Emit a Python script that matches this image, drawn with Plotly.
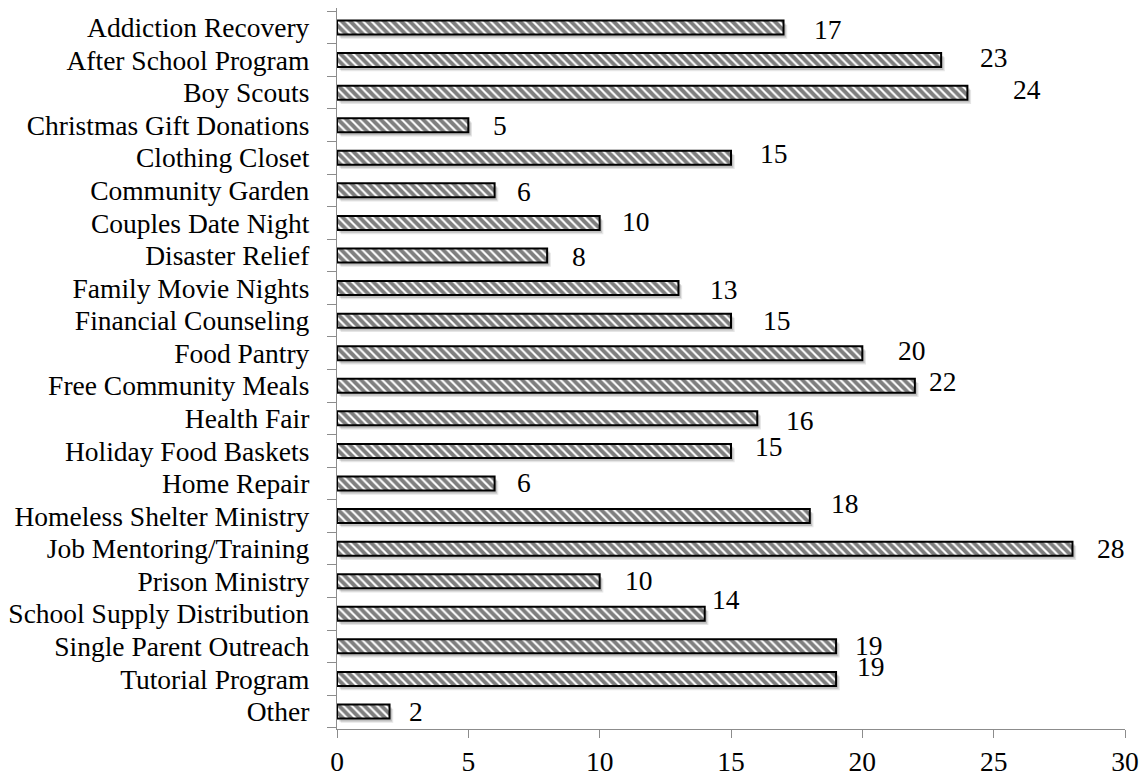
import plotly.graph_objects as go

# Outreach programs and the number of responses for each
programs = [
    "Addiction Recovery", "After School Program", "Boy Scouts",
    "Christmas Gift Donations", "Clothing Closet", "Community Garden",
    "Couples Date Night", "Disaster Relief", "Family Movie Nights",
    "Financial Counseling", "Food Pantry", "Free Community Meals",
    "Health Fair", "Holiday Food Baskets", "Home Repair",
    "Homeless Shelter Ministry", "Job Mentoring/Training", "Prison Ministry",
    "School Supply Distribution", "Single Parent Outreach",
    "Tutorial Program", "Other",
]
counts = [17, 23, 24, 5, 15, 6, 10, 8, 13, 15, 20, 22, 16, 15, 6, 18, 28, 10, 14, 19, 19, 2]

x_ticks = [0, 5, 10, 15, 20, 25, 30]

# Hand-placed value labels: (right, down) nudge in pixels from the bar end
label_nudge = [
    (28, 2), (37, -3), (44, -3), (23, 0), (27, -4), (20, 1), (20, -1), (23, 1),
    (30, 1), (30, 0), (34, -3), (12, -4), (27, 2), (22, -4), (20, -1), (19, -13),
    (23, 0), (23, -1), (5, -14), (17, -1), (19, -12), (17, 0),
]

FONT = "Liberation Serif"
FS = 27.5
BAR_W = 0.43

fig = go.Figure()

# soft drop shadow behind each bar
for dy, dx, alpha in [(0.13, 0.14, 0.10), (0.09, 0.09, 0.16)]:
    fig.add_trace(go.Bar(
        y=programs, x=counts, orientation="h",
        base=dx, width=BAR_W, offset=-BAR_W / 2 + dy,
        marker=dict(color=f"rgba(0,0,0,{alpha})", line=dict(width=0)),
        hoverinfo="skip", showlegend=False,
    ))

# hatched bars
fig.add_trace(go.Bar(
    y=programs, x=counts, orientation="h",
    width=BAR_W, offset=-BAR_W / 2,
    marker=dict(
        color="white",
        line=dict(color="black", width=2),
        pattern=dict(shape="\\", fgcolor="black", bgcolor="white",
                     size=6, solidity=0.65),
    ),
    showlegend=False,
))

for name, val, (dx, dy) in zip(programs, counts, label_nudge):
    fig.add_annotation(
        x=val, y=name, text=str(val), showarrow=False,
        xanchor="left", yanchor="middle", xshift=dx, yshift=-dy,
        font=dict(family=FONT, size=FS, color="black"),
    )

fig.update_layout(
    width=1146, height=776,
    margin=dict(l=337, r=21, t=8, b=47, autoexpand=False),
    paper_bgcolor="white", plot_bgcolor="white",
    barmode="overlay",
    font=dict(family=FONT, size=FS, color="black"),
)
fig.update_xaxes(
    range=[0, 30], tickmode="array", tickvals=x_ticks,
    ticktext=[str(t) for t in x_ticks],
    showgrid=False, zeroline=False, automargin=False,
    showline=True, linecolor="#8c8c8c", linewidth=1.3,
    ticks="outside", ticklen=8, tickcolor="#8c8c8c", tickwidth=1.3,
    ticklabelstandoff=0,
)
fig.update_yaxes(
    categoryorder="array", categoryarray=programs, autorange="reversed",
    tickmode="array", tickvals=programs, ticktext=programs,
    showgrid=False, zeroline=False, automargin=False,
    showline=True, linecolor="#8c8c8c", linewidth=1.3,
    ticks="outside", ticklen=9, tickcolor="#8c8c8c", tickwidth=1.3,
    tickson="boundaries", ticklabelstandoff=21,
)

fig.write_html("out.html")
